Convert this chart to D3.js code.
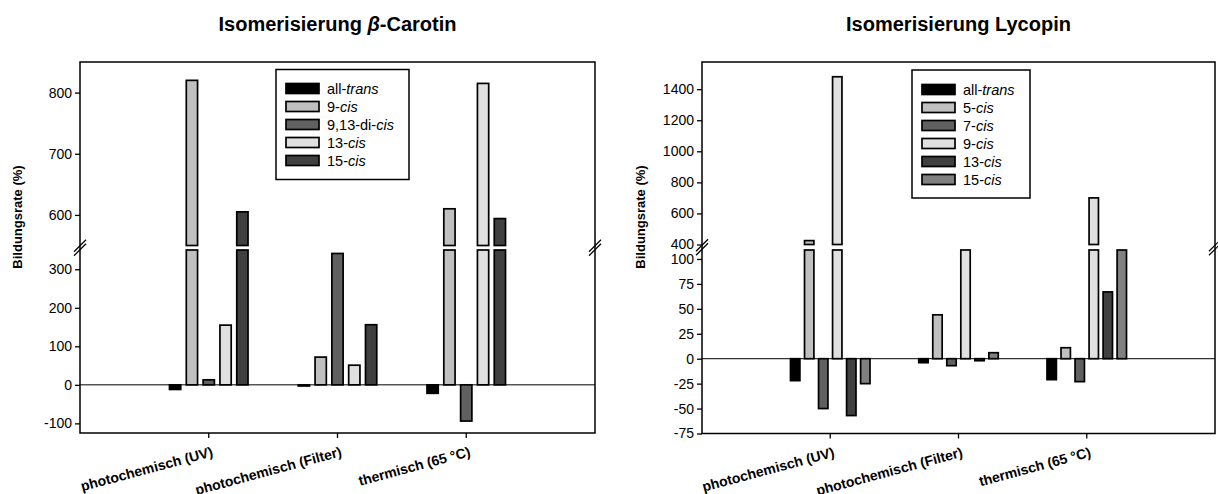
<!doctype html>
<html>
<head>
<meta charset="UTF-8">
<title>Isomerisierung</title>
<script src="https://cdn.jsdelivr.net/npm/d3@7"></script>
<style>
  body { margin: 0; background: #fff; }
  svg { font-family: "Liberation Sans", Arial, sans-serif; }
</style>
</head>
<body>
<div id="chart"></div>
<script>
// categories (x axis)
var categories = ["photochemisch (UV)", "photochemisch (Filter)", "thermisch (65 °C)"];

// beta-carotene: one array per isomer, values per category (%)
var caroteneSeries = ["all-trans", "9-cis", "9,13-di-cis", "13-cis", "15-cis"];
var caroteneAllTrans = [-12, -3, -22];
var carotene9cis     = [820, 72, 610];
var carotene913cis   = [13, 341, -94];
var carotene13cis    = [155, 51, 815];
var carotene15cis    = [605, 156, 594];
var caroteneTicksLow  = [-100, 0, 100, 200, 300];
var caroteneTicksHigh = [600, 700, 800];

// lycopene
var lycopeneSeries = ["all-trans", "5-cis", "7-cis", "9-cis", "13-cis", "15-cis"];
var lycopeneAllTrans = [-22, -4, -21];
var lycopene5cis     = [425, 44, 11];
var lycopene7cis     = [-50, -7, -23];
var lycopene9cis     = [1480, 200, 700];
var lycopene13cis    = [-57, -2, 67];
var lycopene15cis    = [-25, 6, 250];
var lycopeneTicksLow  = [-75, -50, -25, 0, 25, 50, 75, 100];
var lycopeneTicksHigh = [400, 600, 800, 1000, 1200, 1400];

var svg = d3.select("#chart").append("svg")
    .attr("width", 1218)
    .attr("height", 494);

function panel(o) {
  var w = o.width, h = o.height;
  var g = svg.append("g").attr("transform", "translate(" + o.left + "," + o.top + ")");

  // x: three categories at 1/4, 2/4, 3/4 of the width
  var x = d3.scaleBand().domain(categories).range([0, w]).paddingInner(0).paddingOuter(0.5);
  var gw = x.bandwidth() * o.groupFrac;
  var xs = d3.scaleBand().domain(o.series).range([-gw / 2, gw / 2]).paddingInner(0.33);

  // broken y axis: two linear pieces
  var yLow = d3.scaleLinear().domain(o.lowDomain).range([h, o.breakLow]);
  var yHigh = d3.scaleLinear().domain(o.highDomain).range([o.breakHigh, 0]);
  var lowTop = o.lowDomain[1], highBottom = o.highDomain[0];

  var rows = [];
  o.series.forEach(function(s, i) {
    o.values[i].forEach(function(v, j) {
      rows.push({s: s, i: i, c: categories[j], v: v});
    });
  });

  function bx(d) { return x(d.c) + x.bandwidth() / 2 + xs(d.s); }

  // zero line
  g.append("line")
    .attr("x1", 0).attr("x2", w)
    .attr("y1", yLow(0)).attr("y2", yLow(0))
    .attr("stroke", "#000").attr("stroke-width", 1);

  // lower pieces
  g.selectAll(".barlow")
    .data(rows)
    .join("rect")
      .attr("class", "barlow")
      .attr("x", bx)
      .attr("width", xs.bandwidth())
      .attr("y", function(d) { return d.v >= 0 ? yLow(Math.min(d.v, lowTop)) : yLow(0); })
      .attr("height", function(d) {
        return d.v >= 0 ? yLow(0) - yLow(Math.min(d.v, lowTop)) : yLow(d.v) - yLow(0);
      })
      .attr("fill", function(d) { return o.colors[d.i]; })
      .attr("stroke", "#000").attr("stroke-width", 1.7);

  // upper pieces above the break
  g.selectAll(".barhigh")
    .data(rows.filter(function(d) { return d.v > highBottom; }))
    .join("rect")
      .attr("class", "barhigh")
      .attr("x", bx)
      .attr("width", xs.bandwidth())
      .attr("y", function(d) { return yHigh(d.v); })
      .attr("height", function(d) { return yHigh(highBottom) - yHigh(d.v); })
      .attr("fill", function(d) { return o.colors[d.i]; })
      .attr("stroke", "#000").attr("stroke-width", 1.7);

  // frame
  g.append("rect")
    .attr("width", w).attr("height", h)
    .attr("fill", "none").attr("stroke", "#000").attr("stroke-width", 1.5);

  // y axes (plain hyphen minus, no thousands separator)
  [[yLow, o.ticksLow], [yHigh, o.ticksHigh]].forEach(function(a) {
    var ax = g.append("g")
      .call(d3.axisLeft(a[0]).tickValues(a[1]).tickSize(5).tickPadding(3)
        .tickFormat(function(d) { return String(d); }));
    ax.select(".domain").remove();
    ax.selectAll("line").attr("stroke-width", 1.3);
    ax.selectAll("text").attr("font-size", 14).attr("font-family", "Liberation Sans, Arial, sans-serif").attr("fill", "#000");
  });

  // x axis
  var xa = g.append("g")
    .attr("transform", "translate(0," + h + ")")
    .call(d3.axisBottom(x).tickSize(5));
  xa.select(".domain").remove();
  xa.selectAll("line").attr("stroke-width", 1.3);
  xa.selectAll("text")
    .attr("x", 0).attr("y", 0).attr("dy", 0)
    .attr("text-anchor", "end")
    .attr("transform", "translate(5,23) rotate(-15)")
    .attr("font-size", 14).attr("font-weight", "bold")
    .attr("font-family", "Liberation Sans, Arial, sans-serif").attr("fill", "#000");

  // break marks on both axes
  var yb = (o.breakLow + o.breakHigh) / 2;
  [0, w].forEach(function(px) {
    [-2, 2].forEach(function(off) {
      g.append("line")
        .attr("x1", px - 6).attr("y1", yb + off + 6)
        .attr("x2", px + 6).attr("y2", yb + off - 6)
        .attr("stroke", "#000").attr("stroke-width", 1.2);
    });
  });

  // title
  svg.append("text")
    .attr("x", o.left + w / 2).attr("y", 31)
    .attr("text-anchor", "middle")
    .attr("font-size", 20).attr("font-weight", "bold")
    .call(o.title);

  // y label
  svg.append("text")
    .attr("transform", "translate(" + o.ylabelX + ",217) rotate(-90)")
    .attr("text-anchor", "middle")
    .attr("font-size", 13).attr("font-weight", "bold")
    .text("Bildungsrate (%)");

  // legend
  var lg = g.append("g").attr("transform", "translate(" + o.legend.x + "," + o.legend.y + ")");
  lg.append("rect")
    .attr("width", o.legend.w).attr("height", o.legend.h)
    .attr("fill", "#fff").attr("stroke", "#000").attr("stroke-width", 1.5);
  o.series.forEach(function(s, i) {
    var ry = o.legend.first + i * o.legend.step;
    lg.append("rect")
      .attr("x", 10).attr("y", ry - 5)
      .attr("width", 33).attr("height", 10)
      .attr("fill", o.colors[i]).attr("stroke", "#000").attr("stroke-width", 1.7);
    var cut = s.lastIndexOf("-") + 1;
    var t = lg.append("text")
      .attr("x", 51).attr("y", ry + 5)
      .attr("font-size", 14.5);
    t.append("tspan").text(s.slice(0, cut));
    t.append("tspan").attr("font-style", "italic").text(s.slice(cut));
  });
}

panel({
  left: 80, top: 62, width: 515, height: 371,
  series: caroteneSeries,
  values: [caroteneAllTrans, carotene9cis, carotene913cis, carotene13cis, carotene15cis],
  colors: ["#000000", "#c0c0c0", "#606060", "#e0e0e0", "#404040"],
  groupFrac: 0.61,
  lowDomain: [-125, 350], highDomain: [550, 850],
  breakLow: 188, breakHigh: 183.5,
  ticksLow: caroteneTicksLow, ticksHigh: caroteneTicksHigh,
  ylabelX: 22,
  legend: {x: 196, y: 7.5, w: 133, h: 110, first: 19, step: 18},
  title: function(t) {
    t.append("tspan").text("Isomerisierung ");
    t.append("tspan").attr("font-style", "italic").text("β");
    t.append("tspan").text("-Carotin");
  }
});

panel({
  left: 702, top: 62, width: 513, height: 371.5,
  series: lycopeneSeries,
  values: [lycopeneAllTrans, lycopene5cis, lycopene7cis, lycopene9cis, lycopene13cis, lycopene15cis],
  colors: ["#000000", "#c0c0c0", "#606060", "#e0e0e0", "#404040", "#808080"],
  groupFrac: 0.62,
  lowDomain: [-75, 109], highDomain: [400, 1575],
  breakLow: 188, breakHigh: 182.5,
  ticksLow: lycopeneTicksLow, ticksHigh: lycopeneTicksHigh,
  ylabelX: 645,
  legend: {x: 210, y: 8, w: 118, h: 128, first: 19.5, step: 18},
  title: function(t) { t.text("Isomerisierung Lycopin"); }
});
</script>
</body>
</html>
